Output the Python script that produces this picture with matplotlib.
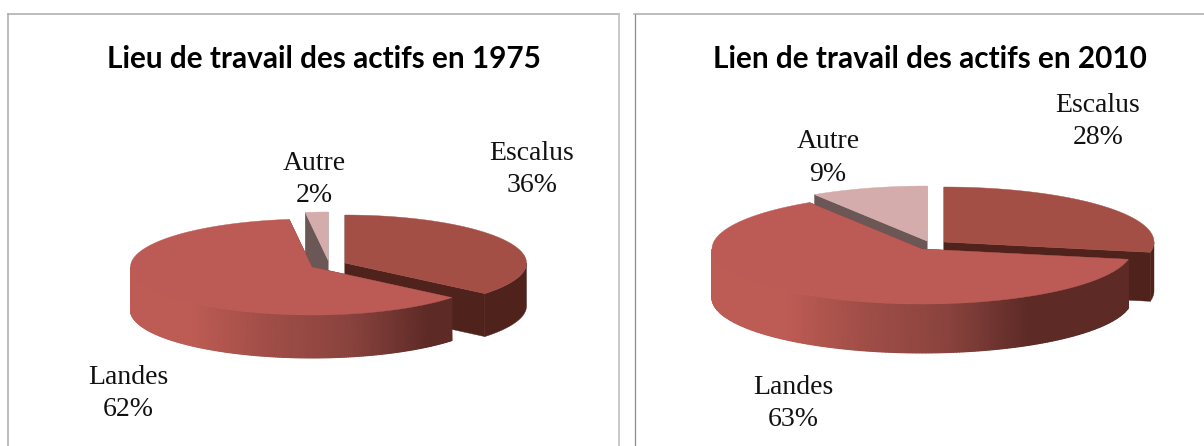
import numpy as np
import matplotlib
matplotlib.use("Agg")
import matplotlib.pyplot as plt
from matplotlib.colors import LinearSegmentedColormap

categories = ["Escalus", "Landes", "Autre"]
values_1975 = [36, 62, 2]
values_2010 = [28, 63, 9]
title_1975 = "Lieu de travail des actifs en 1975"
title_2010 = "Lien de travail des actifs en 2010"

top_colors = ["#a34f46", "#bc5b56", "#d3acab"]
wall_colors = ["#4f231c", "#5d2a26", "#6b5856"]
LABEL_SIZE = 20

fig = plt.figure(figsize=(12.04, 4.46), dpi=100)
ax = fig.add_axes([0, 0, 1, 1])
ax.set_xlim(0, 1204)
ax.set_ylim(446, 0)
ax.axis("off")

cmap = LinearSegmentedColormap.from_list("wall", ["#bd5c54", "#a04d47", "#8a433e", "#5d2a26"])


def rim(c, rx, ry, a):
    a = np.radians(a)
    return c[0] + rx * np.sin(a), c[1] - ry * np.cos(a)


def draw_pie(values, centers, rx, ry, depth, grad):
    edges = np.cumsum([0] + values) / sum(values) * 360
    # back slices first, landes sits in front of the others
    for i in [0, 2, 1]:
        a0, a1 = edges[i], edges[i + 1]
        c = centers[i]
        for a in (a0, a1):
            x, y = rim(c, rx, ry, a)
            ax.fill([c[0], x, x, c[0]], [c[1], y, y + depth, c[1] + depth],
                    color=wall_colors[i], lw=0.3)
        lo, hi = max(a0, 90), min(a1, 270)
        if hi > lo:
            th = np.linspace(lo, hi, 200)
            x, y = rim(c, rx, ry, th)
            if i == 1:
                X = np.array([x, x])
                Y = np.array([y, y + depth])
                ax.pcolormesh(X, Y, X, shading="gouraud", cmap=cmap,
                              vmin=grad[0], vmax=grad[1], zorder=2)
            else:
                ax.fill(np.r_[x, x[::-1]], np.r_[y, (y + depth)[::-1]],
                        color=wall_colors[i], lw=0.3)
        th = np.linspace(a0, a1, 200)
        x, y = rim(c, rx, ry, th)
        ax.fill(np.r_[c[0], x], np.r_[c[1], y], color=top_colors[i], lw=0.3, zorder=2)


def draw_labels(values, pos):
    for cat, v, p in zip(categories, values, pos):
        ax.text(p[0], p[1], cat, ha="center", va="center", fontsize=LABEL_SIZE,
                family="Liberation Serif", color="#111111", zorder=5)
        ax.text(p[0], p[1] + 32.5, f"{v}%", ha="center", va="center", fontsize=LABEL_SIZE,
                family="Liberation Serif", color="#111111", zorder=5)


# frames
ax.plot([8, 8], [446, 14], color="#ababab", lw=1.1)
ax.plot([8, 619], [14, 14], color="#ababab", lw=1.1)
ax.plot([619, 619], [14, 446], color="#c4c4c4", lw=1.3)
ax.plot([634.5, 634.5], [446, 14], color="#8c8c8c", lw=0.9)
ax.plot([634, 1204], [14, 14], color="#ababab", lw=1.1)

draw_pie(values_1975, [(345, 263), (312, 267), (328, 260)], 181.5, 48, 43, (190, 430))
draw_pie(values_2010, [(944, 242), (922, 249), (927, 241)], 210, 55, 49, (785, 1030))

draw_labels(values_1975, [(532, 153), (128, 377), (314, 163)])
draw_labels(values_2010, [(1098, 105), (793, 387), (828, 142)])

ax.text(324, 59, title_1975, ha="center", va="center", fontsize=21.4, fontweight="bold",
        family="Lato", color="black")
ax.text(930, 59, title_2010, ha="center", va="center", fontsize=21.4, fontweight="bold",
        family="Lato", color="black")

fig.savefig("out.png", dpi=100)
